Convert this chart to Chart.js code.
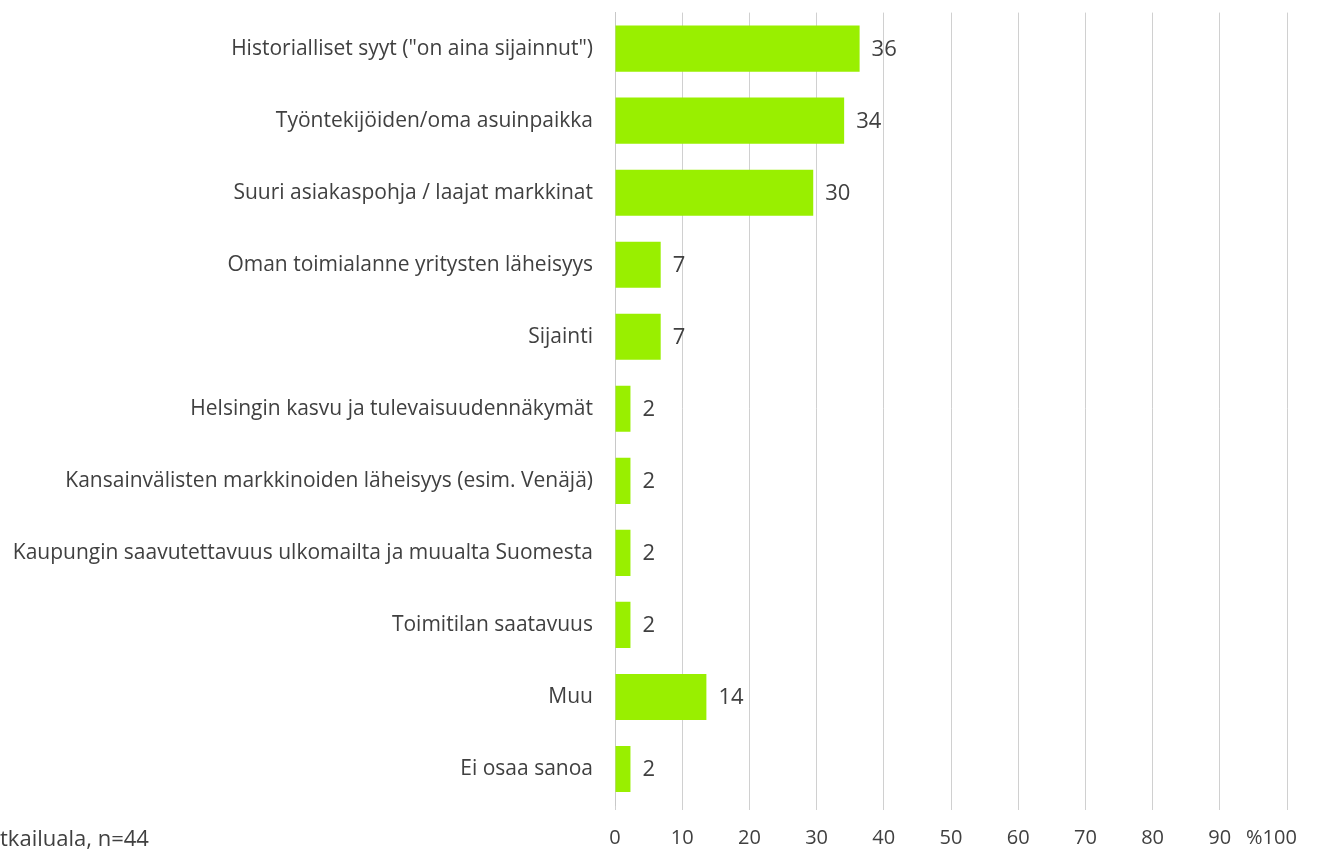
<!DOCTYPE html>
<html>
<head>
<meta charset="utf-8">
<script src="https://cdn.jsdelivr.net/npm/chart.js@4"></script>
<style>
  html, body { margin: 0; padding: 0; background: #fff; }
  #wrap { width: 1327px; height: 856px; }
</style>
</head>
<body>
<div id="wrap"><canvas id="bar-chart"></canvas></div>
<script>
const categories = [
  'Historialliset syyt ("on aina sijainnut")',
  'Työntekijöiden/oma asuinpaikka',
  'Suuri asiakaspohja / laajat markkinat',
  'Oman toimialanne yritysten läheisyys',
  'Sijainti',
  'Helsingin kasvu ja tulevaisuudennäkymät',
  'Kansainvälisten markkinoiden läheisyys (esim. Venäjä)',
  'Kaupungin saavutettavuus ulkomailta ja muualta Suomesta',
  'Toimitilan saatavuus',
  'Muu',
  'Ei osaa sanoa'
];
const values = [36.4, 34.1, 29.5, 6.8, 6.8, 2.3, 2.3, 2.3, 2.3, 13.6, 2.3];
const valueLabels = ['36', '34', '30', '7', '7', '2', '2', '2', '2', '14', '2'];
const xTicks = [0, 10, 20, 30, 40, 50, 60, 70, 80, 90, 100];
const note = 'Matkailuala, n=44';

const fontFamily = '"Open Sans", "Noto Sans", sans-serif';
const textColor = '#404040';

const valueLabelPlugin = {
  id: 'valueLabels',
  afterDatasetsDraw(chart) {
    const ctx = chart.ctx;
    const meta = chart.getDatasetMeta(0);
    ctx.save();
    ctx.font = '22px ' + fontFamily;
    ctx.fillStyle = textColor;
    ctx.textAlign = 'left';
    ctx.textBaseline = 'middle';
    meta.data.forEach((bar, i) => {
      ctx.fillText(valueLabels[i], bar.x + 12, bar.y + 1);
    });
    ctx.restore();
  }
};

const notePlugin = {
  id: 'note',
  afterDraw(chart) {
    const ctx = chart.ctx;
    ctx.save();
    ctx.font = '22px ' + fontFamily;
    ctx.fillStyle = textColor;
    ctx.textBaseline = 'middle';
    const offset = ctx.measureText('Ma').width;
    ctx.fillText(note, -offset, 840);
    ctx.restore();
  }
};

const canvas1 = document.querySelector('#bar-chart');
const barChart = new Chart(canvas1, {
  type: 'bar',
  data: {
    labels: categories,
    datasets: [{
      data: values,
      backgroundColor: '#99ef00',
      borderWidth: 0,
      categoryPercentage: 1,
      barPercentage: 0.64
    }]
  },
  options: {
    indexAxis: 'y',
    responsive: true,
    maintainAspectRatio: false,
    animation: false,
    layout: { padding: { top: -2, right: 40, bottom: 0, left: 0 } },
    plugins: {
      legend: { display: false },
      tooltip: { enabled: false }
    },
    scales: {
      x: {
        min: 0,
        max: 100,
        afterBuildTicks(scale) {
          scale.ticks = xTicks.map(v => ({ value: v }));
        },
        afterFit(scale) {
          scale.height = 51;
          scale.paddingRight = 0;
          scale.paddingLeft = 0;
        },
        grid: { color: '#d0d0d0', lineWidth: 1, tickLength: 5 },
        border: { display: false },
        ticks: {
          autoSkip: false,
          padding: 16,
          color: textColor,
          font: { size: 20, family: fontFamily },
          maxRotation: 0,
          callback: v => (v === 100 ? '%100      ' : String(v))
        }
      },
      y: {
        afterFit(scale) { scale.width = 615; },
        grid: { display: false, drawTicks: true, tickLength: 22 },
        border: { display: true, color: '#c8c8c8' },
        ticks: {
          padding: 0,
          color: textColor,
          font: { size: 21, family: fontFamily }
        }
      }
    }
  },
  plugins: [valueLabelPlugin, notePlugin]
});
</script>
</body>
</html>
